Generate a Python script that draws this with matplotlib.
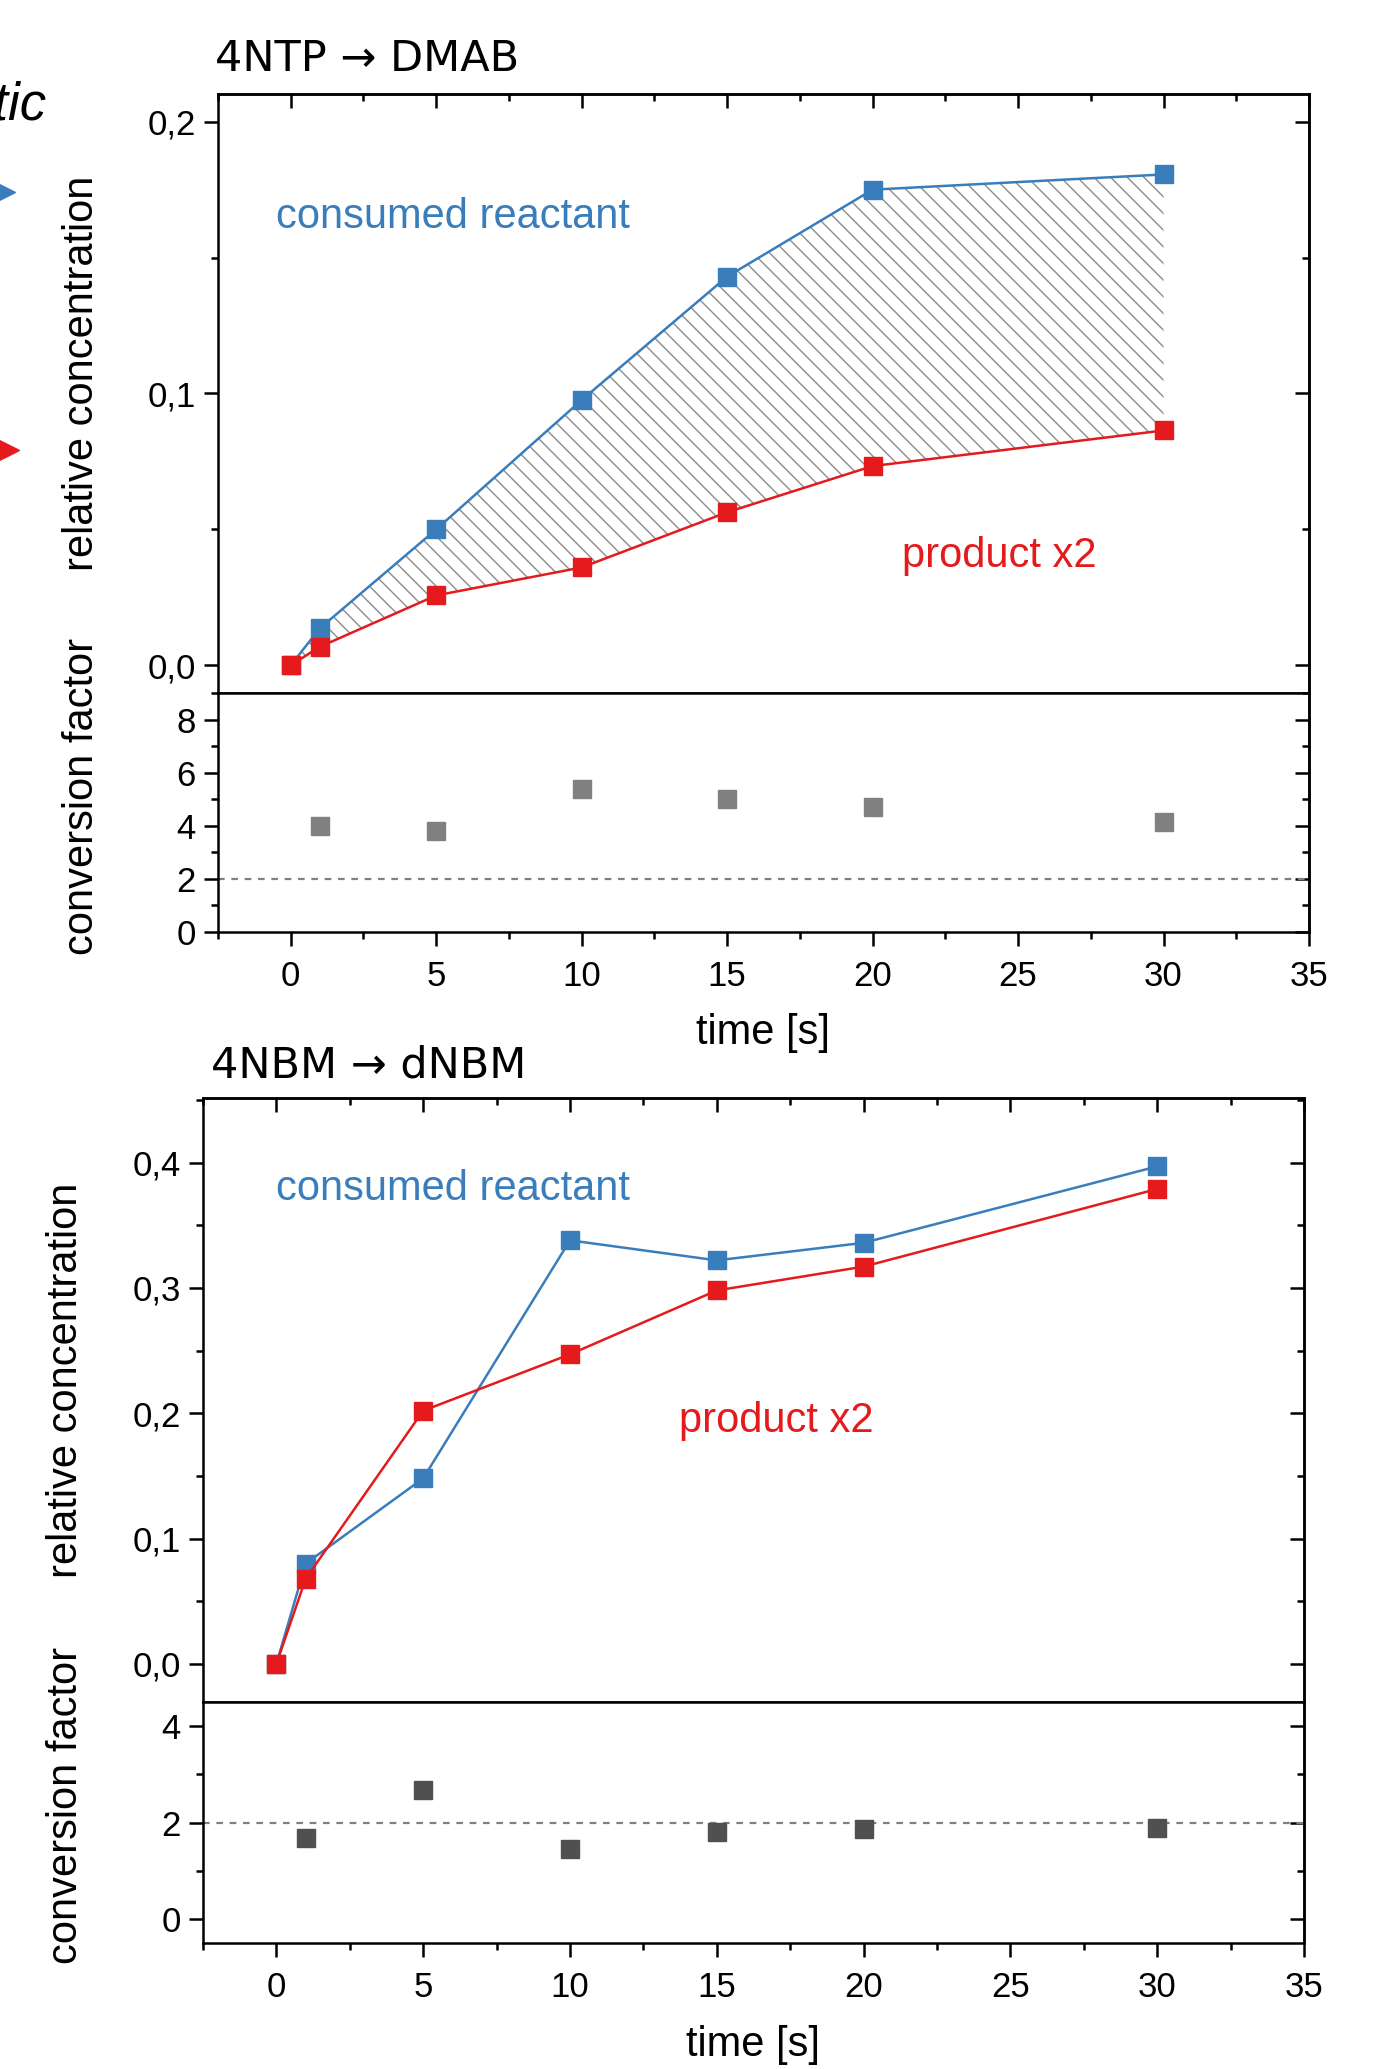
import matplotlib
matplotlib.use("Agg")
import matplotlib.pyplot as plt
from matplotlib.ticker import MultipleLocator, FuncFormatter

# ---------------------------------------------------------------------------
# Data
# ---------------------------------------------------------------------------
time_s = [0, 1, 5, 10, 15, 20, 30]
time_cf = [1, 5, 10, 15, 20, 30]

# 4NTP -> DMAB
ntp_reactant = [0.0, 0.0136, 0.050, 0.0976, 0.143, 0.175, 0.1806]
ntp_product2 = [0.0, 0.0068, 0.0257, 0.036, 0.0563, 0.0733, 0.0864]
ntp_factor = [4.0, 3.8, 5.38, 4.99, 4.69, 4.15]

# 4NBM -> dNBM
nbm_reactant = [0.0, 0.080, 0.148, 0.338, 0.322, 0.336, 0.397]
nbm_product2 = [0.0, 0.068, 0.202, 0.247, 0.298, 0.317, 0.379]
nbm_factor = [1.67, 2.68, 1.45, 1.81, 1.86, 1.89]

titles = ["4NTP \u2192 DMAB", "4NBM \u2192 dNBM"]

BLUE = "#3a7dbb"
RED = "#e41a1c"
W, H = 1388, 2069

plt.rcParams["font.family"] = ["Liberation Sans", "DejaVu Sans"]
plt.rcParams["hatch.linewidth"] = 1.0
plt.rcParams["axes.linewidth"] = 1.8

comma = FuncFormatter(lambda v, p: f"{v:.1f}".replace(".", ","))


def px_rect(left, top, right, bottom):
    return [left / W, 1 - bottom / H, (right - left) / W, (bottom - top) / H]


def style(ax, ymaj, ymin, top_ticks, bottom_labels):
    ax.xaxis.set_major_locator(MultipleLocator(5))
    ax.xaxis.set_minor_locator(MultipleLocator(2.5))
    ax.yaxis.set_major_locator(MultipleLocator(ymaj))
    ax.yaxis.set_minor_locator(MultipleLocator(ymin))
    ax.tick_params(which="major", direction="out", length=10, width=1.8,
                   labelsize=25, pad=6)
    ax.tick_params(which="minor", direction="out", length=5, width=1.8)
    ax.tick_params(axis="x", which="both", bottom=bottom_labels,
                   labelbottom=bottom_labels)
    sy = ax.secondary_yaxis("right")
    sy.yaxis.set_major_locator(MultipleLocator(ymaj))
    sy.yaxis.set_minor_locator(MultipleLocator(ymin))
    sy.tick_params(which="major", direction="in", length=10, width=1.8,
                   labelright=False)
    sy.tick_params(which="minor", direction="in", length=5, width=1.8)
    if top_ticks:
        sx = ax.secondary_xaxis("top")
        sx.xaxis.set_major_locator(MultipleLocator(5))
        sx.xaxis.set_minor_locator(MultipleLocator(2.5))
        sx.tick_params(which="major", direction="in", length=10, width=1.8,
                       labeltop=False)
        sx.tick_params(which="minor", direction="in", length=5, width=1.8)


fig = plt.figure(figsize=(W / 100, H / 100), dpi=100)

panels = [
    dict(up=(218, 94, 1309, 693), low=(218, 693, 1309, 932),
         reac=ntp_reactant, prod=ntp_product2, cf=ntp_factor,
         ylim=(-0.0102, 0.2102), cflim=(0, 9), cfmaj=2, cfmin=1,
         cfcolor="#808080", hatch=True,
         reac_txt=(-0.5, 0.165), prod_txt=(21.0, 0.0403),
         title_xy=(215, 71), ylab_x=82, ylab_y=(373, 796), xlab_y=1033),
    dict(up=(203, 1098, 1304, 1702), low=(203, 1702, 1304, 1943),
         reac=nbm_reactant, prod=nbm_product2, cf=nbm_factor,
         ylim=(-0.0305, 0.4516), cflim=(-0.5, 4.5), cfmaj=2, cfmin=1,
         cfcolor="#505050", hatch=False,
         reac_txt=(0.0, 0.379), prod_txt=(13.7, 0.194),
         title_xy=(211, 1078), ylab_x=66, ylab_y=(1380, 1805), xlab_y=2045),
]

for i, p in enumerate(panels):
    ax = fig.add_axes(px_rect(*p["up"]))
    axl = fig.add_axes(px_rect(*p["low"]), sharex=ax)

    if p["hatch"]:
        ax.fill_between(time_s, p["prod"], p["reac"], facecolor="none",
                        edgecolor="#8c8c8c", hatch="\\\\", linewidth=0,
                        zorder=1)
    ax.plot(time_s, p["reac"], "-s", color=BLUE, lw=1.8, ms=13, zorder=3)
    ax.plot(time_s, p["prod"], "-s", color=RED, lw=1.8, ms=13, zorder=3)
    ax.set_xlim(-2.5, 35)
    ax.set_ylim(*p["ylim"])
    ax.yaxis.set_major_formatter(comma)
    style(ax, 0.1, 0.05, top_ticks=True, bottom_labels=False)

    ax.text(*p["reac_txt"], "consumed reactant", color=BLUE, fontsize=30,
            ha="left", va="center")
    ax.text(*p["prod_txt"], "product x2", color=RED, fontsize=30,
            ha="left", va="center")

    axl.plot(time_cf, p["cf"], "s", color=p["cfcolor"], ms=13, zorder=3)
    axl.axhline(2, color="#808080", ls=(0, (3, 3)), lw=1.6, zorder=1)
    axl.set_ylim(*p["cflim"])
    style(axl, p["cfmaj"], p["cfmin"], top_ticks=False, bottom_labels=True)
    axl.tick_params(axis="x", labelsize=25, pad=10)

    # titles and axis labels
    tx, ty = p["title_xy"]
    fig.text(tx / W, 1 - ty / H, titles[i], fontsize=31,
             family="DejaVu Sans", ha="left", va="baseline")
    fig.text(p["ylab_x"] / W, 1 - p["ylab_y"][0] / H, "relative concentration",
             rotation=90, fontsize=30, ha="center", va="center")
    fig.text(p["ylab_x"] / W, 1 - p["ylab_y"][1] / H, "conversion factor",
             rotation=90, fontsize=30, ha="center", va="center")
    cx = (p["up"][0] + p["up"][2]) / 2
    fig.text(cx / W, 1 - p["xlab_y"] / H, "time [s]", fontsize=30,
             ha="center", va="center")

# cut-off remnants of the neighbouring panel on the left edge
fig.text(46 / W, 1 - 106 / H, "etic", fontsize=38, style="italic",
         ha="right", va="center")
ov = fig.add_axes([0, 0, 1, 1], zorder=-1)
ov.set_xlim(0, W)
ov.set_ylim(H, 0)
ov.axis("off")
ov.plot([5], [192], ">", color=BLUE, ms=14, clip_on=False)
ov.plot([9], [450], ">", color=RED, ms=14, clip_on=False)

fig.savefig("out.png", dpi=100)
